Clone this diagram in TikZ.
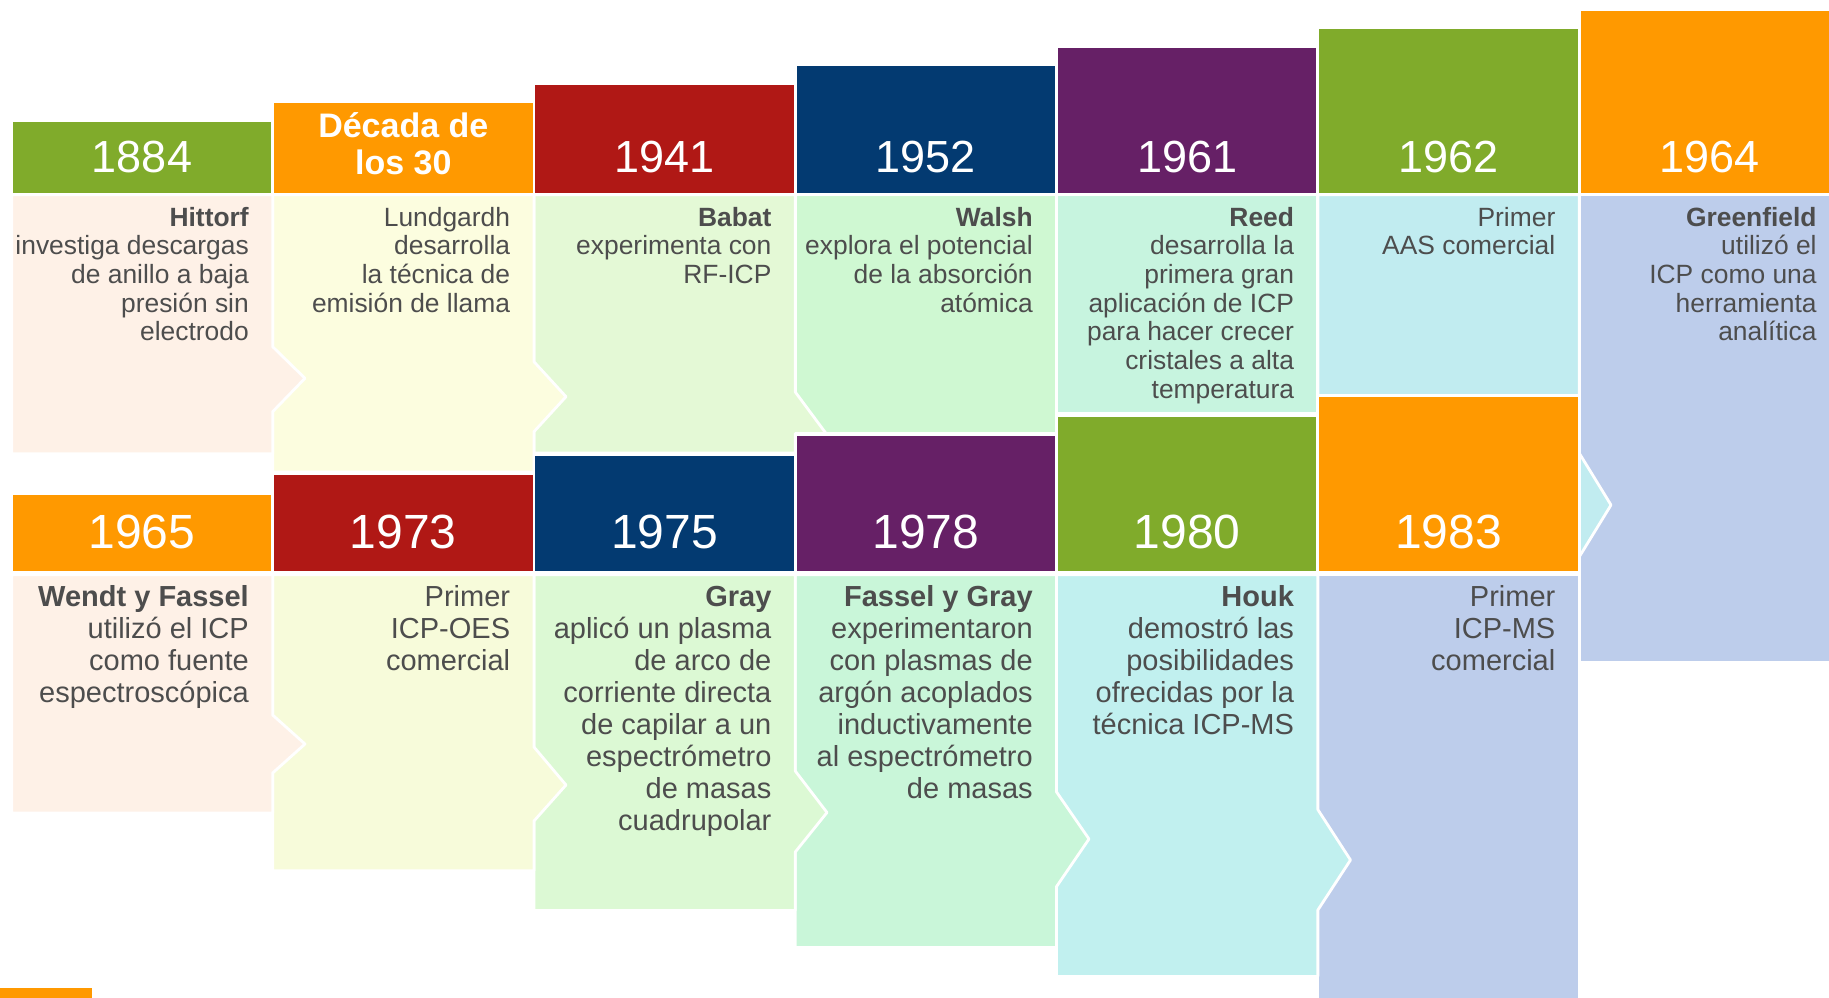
\documentclass[tikz,border=0pt]{standalone}
\usepackage{fontspec}
\setmainfont{Liberation Sans}
\usepackage{xcolor}
% header colours
\definecolor{hgreen}{HTML}{80AB2B}
\definecolor{horange}{HTML}{FF9900}
\definecolor{hred}{HTML}{B01815}
\definecolor{hnavy}{HTML}{033A71}
\definecolor{hpurple}{HTML}{662066}
% body colours
\definecolor{bpeach}{HTML}{FEF1E7}
\definecolor{byellow}{HTML}{FCFDDF}
\definecolor{blime}{HTML}{F7FBDA}
\definecolor{bgreen}{HTML}{E4F9D6}
\definecolor{bgreenb}{HTML}{DCF9D4}
\definecolor{bmint}{HTML}{CFF8D2}
\definecolor{bmintb}{HTML}{C9F6D9}
\definecolor{bsea}{HTML}{C7F4DF}
\definecolor{bcyan}{HTML}{C1ECF0}
\definecolor{bcyanb}{HTML}{C1F0EF}
\definecolor{bblue}{HTML}{BDCDEB}
\definecolor{txt}{HTML}{4D4D4D}

\begin{document}
\begin{tikzpicture}[x=1pt,y=-1pt,
  card/.style={draw=white,line width=2.8pt,line join=round},
  yeartop/.style={text=white,inner sep=0pt,anchor=base,font=\fontsize{45}{54}\selectfont},
  yearbot/.style={text=white,inner sep=0pt,anchor=base,font=\fontsize{48}{58}\selectfont},
  texttop/.style={text=txt,inner sep=0pt,anchor=base east,align=right,font=\fontsize{26.4}{28.7}\selectfont},
  textbot/.style={text=txt,inner sep=0pt,anchor=base east,align=right,font=\fontsize{29}{32}\selectfont}]
\clip (0,0) rectangle (1829,998);
\fill[white] (0,0) rectangle (1829,998);
% column edges: 11.6, 272.65, 533.95, 795.25, 1056.55, 1317.85, 1579.15, 1840.45
% ---- top row, bodies (right to left) ----
% 1964
\fill[card,fill=bblue] (1579.15,194.75) rectangle (1840.45,662.4);
% 1962
\fill[card,fill=bcyan] (1317.85,194.75) -- (1579.15,194.75) -- (1579.15,453)
  -- (1611,505) -- (1579.15,557) -- (1579.15,600) -- (1317.85,600) -- cycle;
% 1961
\fill[card,fill=bsea] (1056.55,194.75) rectangle (1317.85,413.4);
% 1952
\fill[card,fill=bmint] (795.25,194.75) rectangle (1056.55,433.4);
% 1941
\fill[card,fill=bgreen] (533.95,194.75) -- (795.25,194.75) -- (795.25,392)
  -- (826,433.4) -- (795.25,433.4) -- (795.25,453.1) -- (533.95,453.1) -- cycle;
% decada de los 30
\fill[card,fill=byellow] (272.65,194.75) -- (533.95,194.75) -- (533.95,361.7)
  -- (566,396.7) -- (533.95,431.7) -- (533.95,472.1) -- (272.65,472.1) -- cycle;
% 1884
\fill[card,fill=bpeach] (11.6,194.75) -- (272.65,194.75) -- (272.65,346.7)
  -- (305,378.3) -- (272.65,411.7) -- (272.65,453.7) -- (11.6,453.7) -- cycle;
% ---- top row, headers ----
\fill[card,fill=hgreen]  (11.6,120.3)    rectangle (272.65,194.75);
\fill[card,fill=horange] (272.65,101.8)  rectangle (533.95,194.75);
\fill[card,fill=hred]    (533.95,83.3)   rectangle (795.25,194.75);
\fill[card,fill=hnavy]   (795.25,64.8)   rectangle (1056.55,194.75);
\fill[card,fill=hpurple] (1056.55,46.3)  rectangle (1317.85,194.75);
\fill[card,fill=hgreen]  (1317.85,27.8)  rectangle (1579.15,194.75);
\fill[card,fill=horange] (1579.15,9.3)   rectangle (1840.45,194.75);
% ---- bottom row, bodies (right to left) ----
% 1983
\fill[card,fill=bblue] (1317.85,574.6) rectangle (1579.15,1010);
% 1980
\fill[card,fill=bcyanb] (1056.55,574.6) -- (1317.85,574.6) -- (1317.85,809.6)
  -- (1350.5,860) -- (1317.85,910) -- (1317.85,976.4) -- (1056.55,976.4) -- cycle;
% 1978
\fill[card,fill=bmintb] (795.25,574.6) -- (1056.55,574.6) -- (1056.55,792)
  -- (1089,839) -- (1056.55,886.5) -- (1056.55,947.4) -- (795.25,947.4) -- cycle;
% 1975
\fill[card,fill=bgreenb] (533.95,574.6) -- (795.25,574.6) -- (795.25,771)
  -- (827,812.5) -- (795.25,852) -- (795.25,910.4) -- (533.95,910.4) -- cycle;
% 1973
\fill[card,fill=blime] (272.65,574.6) -- (533.95,574.6) -- (533.95,747)
  -- (566,785) -- (533.95,821) -- (533.95,870.7) -- (272.65,870.7) -- cycle;
% 1965
\fill[card,fill=bpeach] (11.6,574.6) -- (272.65,574.6) -- (272.65,715)
  -- (305,744) -- (272.65,773) -- (272.65,813.1) -- (11.6,813.1) -- cycle;
% ---- bottom row, headers ----
\fill[card,fill=horange] (11.6,493.6)    rectangle (272.65,572.2);
\fill[card,fill=hred]    (272.65,474)    rectangle (533.95,572.2);
\fill[card,fill=hnavy]   (533.95,454.4)  rectangle (795.25,572.2);
\fill[card,fill=hpurple] (795.25,434.8)  rectangle (1056.55,572.2);
\fill[card,fill=hgreen]  (1056.55,415.2) rectangle (1317.85,572.2);
\fill[card,fill=horange] (1317.85,395.6) rectangle (1579.15,572.2);
% ---- years ----
\node[yeartop] (y1884) at (142,172) {1884};
\node[text=white,inner sep=0pt,anchor=base,align=center,
  font=\bfseries\fontsize{34}{36.3}\selectfont] (y1930) at (403.3,174) {Década de\\los 30};
\node[yeartop] (y1941) at (664.6,172) {1941};
\node[yeartop] (y1952) at (925.9,172) {1952};
\node[yeartop] (y1961) at (1187.2,172) {1961};
\node[yeartop] (y1962) at (1448.5,172) {1962};
\node[yeartop] (y1964) at (1709.8,172) {1964};
\node[yearbot] (y1965) at (142,548.5) {1965};
\node[yearbot] (y1973) at (403.3,548.5) {1973};
\node[yearbot] (y1975) at (664.6,548.5) {1975};
\node[yearbot] (y1978) at (925.9,548.5) {1978};
\node[yearbot] (y1980) at (1187.2,548.5) {1980};
\node[yearbot] (y1983) at (1448.5,548.5) {1983};
% ---- texts, top row (placed at the baseline of the last line) ----
\node[texttop] (t1884) at (249,340.8) {\textbf{Hittorf}\\investiga descargas\\de anillo a baja\\presión sin\\electrodo};
\node[texttop] (t1930) at (510.3,312.1) {Lundgardh\\desarrolla\\la técnica de\\emisión de llama};
\node[texttop] (t1941) at (771.6,283.4) {\textbf{Babat}\\experimenta con\\RF-ICP};
\node[texttop] (t1952) at (1032.9,312.1) {\textbf{Walsh}\\explora el potencial\\de la absorción\\atómica};
\node[texttop] (t1961) at (1294.2,398.2) {\textbf{Reed}\\desarrolla la\\primera gran\\aplicación de ICP\\para hacer crecer\\cristales a alta\\temperatura};
\node[texttop] (t1962) at (1555.5,254.7) {Primer\\AAS comercial};
\node[texttop] (t1964) at (1816.8,340.8) {\textbf{Greenfield}\\utilizó el\\ICP como una\\herramienta\\analítica};
% ---- texts, bottom row ----
\node[textbot] (t1965) at (249,702.5) {\textbf{Wendt y Fassel}\\utilizó el ICP\\como fuente\\espectroscópica};
\node[textbot] (t1973) at (510.3,670.5) {Primer\\ICP-OES\\comercial};
\node[textbot] (t1975) at (771.6,830.5) {\textbf{Gray}\\aplicó un plasma\\de arco de\\corriente directa\\de capilar a un\\espectrómetro\\de masas\\cuadrupolar};
\node[textbot] (t1978) at (1032.9,798.5) {\textbf{Fassel y Gray}\\experimentaron\\con plasmas de\\argón acoplados\\inductivamente\\al espectrómetro\\de masas};
\node[textbot] (t1980) at (1294.2,734.5) {\textbf{Houk}\\demostró las\\posibilidades\\ofrecidas por la\\técnica ICP-MS};
\node[textbot] (t1983) at (1555.5,670.5) {Primer\\ICP-MS\\comercial};
% small bar, bottom left
\fill[horange] (0,988) rectangle (92,998);
\end{tikzpicture}
\end{document}
